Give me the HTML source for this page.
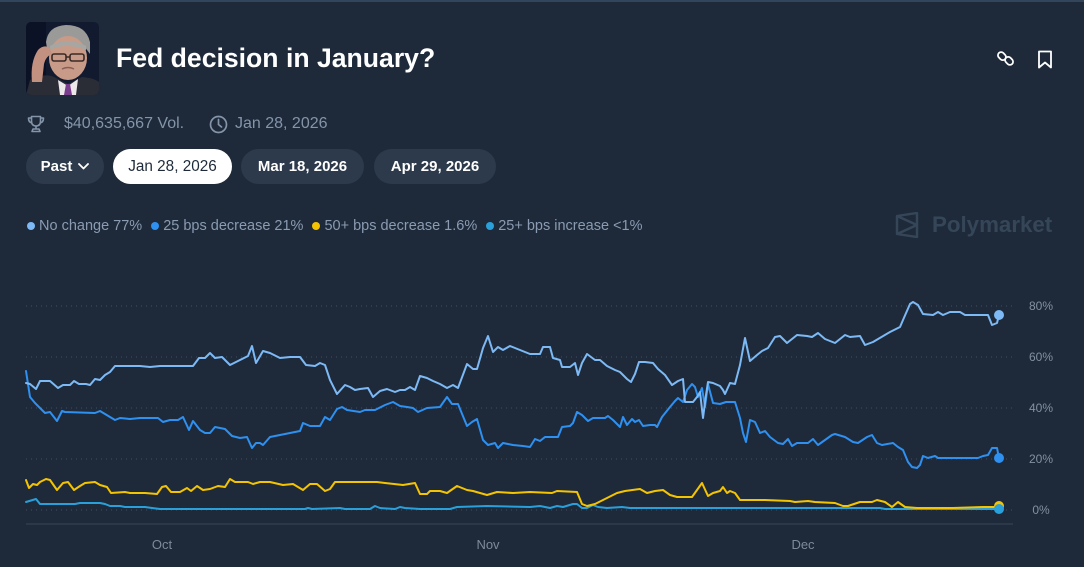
<!DOCTYPE html>
<html><head><meta charset="utf-8">
<style>
*{margin:0;padding:0;box-sizing:border-box}
html,body{width:1084px;height:567px;overflow:hidden;background:#1e2a3a;font-family:"Liberation Sans",Arial,sans-serif}
.abs{position:absolute}
#top{position:absolute;left:0;top:0;width:1084px;height:2px;background:#33455a}
.title{left:116px;top:40px;font-size:26.6px;font-weight:bold;color:#fff;line-height:36px;white-space:nowrap}
.meta{top:114px;font-size:16px;color:#8494a9;line-height:20px;white-space:nowrap}
.pill{top:149px;height:35px;border-radius:18px;background:#2c3a4c;color:#fff;font-size:15px;font-weight:bold;display:flex;align-items:center;justify-content:center;white-space:nowrap}
.pill.sel{background:#fff;color:#1e2a3a;font-weight:normal;font-size:15.3px}
.legend{left:27px;top:217px;height:18px;display:flex;align-items:center;font-size:14.5px;color:#8a9bb2;white-space:nowrap}
.legend .it{display:flex;align-items:center;margin-right:9px}
.legend .d{width:8px;height:8px;border-radius:50%;margin-right:4px}
.wm{left:932px;top:211px;font-size:22.3px;font-weight:bold;color:#364659;line-height:28px}
</style></head><body>
<div id="top"></div>

<svg class="abs" style="left:26px;top:22px" width="73" height="73" viewBox="0 0 73 73">
<defs><clipPath id="cp"><rect width="73" height="73" rx="5"/></clipPath></defs>
<g clip-path="url(#cp)">
<rect width="73" height="73" fill="#121a30"/>
<rect x="0" y="0" width="20" height="73" fill="#0c1226"/>
<path d="M20 20 Q22 4 40 3 Q60 3 64 20 L64 32 L58 24 Q42 18 26 26 L22 32 Z" fill="#9a9a98"/>
<ellipse cx="42" cy="36" rx="19" ry="22" fill="#c89b88"/>
<path d="M24 28 Q40 20 60 28 L60 24 Q42 14 24 24 Z" fill="#a8a6a2"/>
<rect x="26" y="32" width="14" height="7" rx="2" fill="none" stroke="#3a2a25" stroke-width="1.6"/>
<rect x="44" y="32" width="14" height="7" rx="2" fill="none" stroke="#3a2a25" stroke-width="1.6"/>
<path d="M40 35 L44 35" stroke="#3a2a25" stroke-width="1.4"/>
<path d="M36 47 Q42 44 48 47" stroke="#8a5e55" stroke-width="1.5" fill="none"/>
<path d="M0 73 L4 58 Q20 50 30 56 L42 62 L56 55 Q68 56 73 60 L73 73 Z" fill="#2a2c36"/>
<path d="M32 58 L42 64 L52 57 L50 73 L34 73 Z" fill="#ece8ea"/>
<path d="M40 62 L44 62 L46 73 L38 73 Z" fill="#7a3c8c"/>
<path d="M6 60 Q4 40 12 28 Q18 22 24 26 L26 32 Q20 34 18 42 L16 60 Z" fill="#c2917f"/>
</g>
</svg>

<div class="abs title">Fed decision in January?</div>

<svg class="abs" style="left:996px;top:49px" width="19" height="19" viewBox="0 0 24 24" fill="none" stroke="#fff" stroke-width="2.2" stroke-linecap="round">
<rect x="2" y="5" width="11" height="8" rx="4" transform="rotate(45 7.5 9)"/>
<rect x="11" y="11" width="11" height="8" rx="4" transform="rotate(45 16.5 15)"/>
</svg>
<svg class="abs" style="left:1037px;top:50px" width="16" height="19" viewBox="0 0 16 19" fill="none" stroke="#fff" stroke-width="1.8" stroke-linejoin="round">
<path d="M2 1.5 H14 V17.5 L8 12.5 L2 17.5 Z"/>
</svg>

<svg class="abs" style="left:27px;top:115px" width="18" height="18" viewBox="0 0 18 18" fill="none" stroke="#8494a9" stroke-width="1.6" stroke-linejoin="round">
<path d="M4.5 1.5 H13.5 V6 Q13.5 11 9 11 Q4.5 11 4.5 6 Z"/>
<path d="M4.5 3 H1.5 Q1.5 7.5 5 8"/><path d="M13.5 3 H16.5 Q16.5 7.5 13 8"/>
<path d="M9 11 V14"/><path d="M5 16.5 H13 L12 14 H6 Z"/>
</svg>
<div class="abs meta" style="left:64px">$40,635,667 Vol.</div>
<svg class="abs" style="left:209px;top:115px" width="19" height="19" viewBox="0 0 19 19" fill="none" stroke="#8494a9" stroke-width="1.7" stroke-linecap="round">
<circle cx="9.5" cy="9.5" r="8"/><path d="M9.5 4.5 V9.5 L12.5 12"/>
</svg>
<div class="abs meta" style="left:235px">Jan 28, 2026</div>

<div class="abs pill" style="left:26px;width:78px">Past<svg style="margin-left:6px" width="11" height="7" viewBox="0 0 11 7" fill="none" stroke="#fff" stroke-width="1.8" stroke-linecap="round" stroke-linejoin="round"><path d="M1 1 L5.5 5.5 L10 1"/></svg></div>
<div class="abs pill sel" style="left:113px;width:119px">Jan 28, 2026</div>
<div class="abs pill" style="left:241px;width:123px">Mar 18, 2026</div>
<div class="abs pill" style="left:374px;width:122px">Apr 29, 2026</div>

<div class="abs legend">
<div class="it"><span class="d" style="background:#7cb9f5"></span>No change 77%</div>
<div class="it"><span class="d" style="background:#2e90f0"></span>25 bps decrease 21%</div>
<div class="it"><span class="d" style="background:#f5c400"></span>50+ bps decrease 1.6%</div>
<div class="it"><span class="d" style="background:#2aa0da"></span>25+ bps increase &lt;1%</div>
</div>

<svg class="abs" style="left:895px;top:212px" width="24" height="26" viewBox="0 0 24 26" fill="none" stroke="#364659" stroke-width="2.4" stroke-linejoin="round">
<path d="M2 4 L22 1 V25 L2 22 Z"/><path d="M2 4 L22 13 L2 22"/>
</svg>
<div class="abs wm">Polymarket</div>

<svg class="abs" style="left:0;top:0" width="1084" height="567" viewBox="0 0 1084 567">
<g stroke="#3a4859" stroke-width="1.2" stroke-dasharray="1 4">
<line x1="26" y1="306" x2="1013" y2="306"/>
<line x1="26" y1="357" x2="1013" y2="357"/>
<line x1="26" y1="408" x2="1013" y2="408"/>
<line x1="26" y1="459" x2="1013" y2="459"/>
<line x1="26" y1="510" x2="1013" y2="510"/>
</g>
<line x1="26" y1="524" x2="1013" y2="524" stroke="#36455a" stroke-width="1"/>
<g font-family="Liberation Sans, Arial, sans-serif" font-size="12" fill="#8290a0" text-anchor="middle">
<text x="1041" y="310">80%</text>
<text x="1041" y="361">60%</text>
<text x="1041" y="412">40%</text>
<text x="1041" y="463">20%</text>
<text x="1041" y="514">0%</text>
</g>
<g font-family="Liberation Sans, Arial, sans-serif" font-size="13" fill="#7d8a9a" text-anchor="middle">
<text x="162" y="549">Oct</text>
<text x="488" y="549">Nov</text>
<text x="803" y="549">Dec</text>
</g>
<g fill="none" stroke-width="2" stroke-linejoin="round" stroke-linecap="round">
<polyline stroke="#2aa0da" points="26,502 36,499 40,504 75,504 80,503 100,503 105,504 110,506 120,506 125,507 145,507 152,508 160,509 305,509 308,508 312,509 340,508 345,509 370,509 375,506 380,508 395,509 400,507 405,508 420,509 450,509 457,507 487,506 530,507 540,506 550,508 557,506 563,507 573,504 577,504 582,508 587,508 593,505 598,507 607,508 622,507 630,508 880,508 885,509 910,509 999,509"/>
<polyline stroke="#f5c400" points="26,480 29,488 33,484 37,485 40,482 46,479 50,480 57,490 63,483 68,482 74,490 80,486 85,483 95,482 100,485 107,487 111,493 125,492 130,493 145,493 157,494 162,487 166,486 171,492 180,492 187,488 191,491 197,486 203,490 210,489 218,486 225,487 230,479 235,482 248,482 253,484 260,482 270,482 283,485 293,484 303,490 310,484 317,484 325,491 330,489 335,482 360,482 377,482 385,483 403,485 415,483 420,494 427,494 430,491 440,491 447,493 457,486 467,490 473,491 487,495 497,492 513,493 530,492 552,493 557,491 577,492 582,504 587,506 595,504 607,498 617,493 625,491 640,489 647,493 655,491 663,490 670,495 677,497 692,497 702,483 708,496 713,493 720,491 723,487 727,493 730,491 735,493 740,500 750,500 765,500 790,501 795,502 808,501 815,502 835,503 843,506 848,506 860,502 872,502 877,500 885,502 892,507 898,502 905,507 917,508 927,508 953,508 983,507 999,507"/>
<polyline stroke="#2e90f0" points="26,371 30,397 35,403 40,408 45,413 50,412 57,421 62,411 65,412 95,413 100,411 110,417 115,420 120,418 130,419 140,418 158,418 163,422 170,420 178,420 183,417 189,430 193,421 200,430 205,433 210,433 215,427 225,429 232,436 240,438 247,437 252,448 256,443 260,443 263,445 270,437 280,435 290,433 300,431 303,423 310,426 320,426 325,417 330,420 337,409 342,407 347,410 360,412 365,410 375,410 385,405 393,402 400,406 407,407 413,408 418,412 427,408 440,407 447,397 452,404 458,404 467,426 472,422 477,419 483,440 488,445 495,443 498,448 503,443 513,445 523,446 530,447 535,439 540,441 545,437 555,437 558,437 562,427 570,426 573,423 577,412 582,415 588,421 593,418 605,418 608,416 613,420 620,427 623,417 627,425 632,419 635,422 639,420 643,426 650,425 655,425 657,427 662,417 670,407 675,401 678,398 683,402 687,390 692,384 695,387 698,397 702,388 705,407 708,384 713,403 720,404 726,402 735,402 740,418 743,433 746,442 750,420 755,422 760,433 765,431 770,437 778,443 783,444 788,439 792,446 797,443 808,443 813,439 818,445 825,440 832,435 835,434 845,437 853,442 858,443 867,437 872,435 877,443 882,445 893,443 898,447 903,450 908,462 912,467 917,468 920,465 923,456 928,458 935,456 938,458 953,458 978,458 983,456 988,455 992,448 997,448 999,458"/>
<polyline stroke="#7cb9f5" points="26,383 30,384 36,389 40,381 50,381 58,388 63,385 70,385 74,381 79,384 86,384 90,385 95,379 100,380 105,375 110,372 115,366 140,366 150,367 160,366 193,366 199,358 205,358 210,353 215,358 222,357 230,365 240,360 248,356 252,346 256,363 263,351 270,353 280,358 290,357 300,357 306,365 315,366 320,363 325,365 330,380 337,394 345,385 350,387 355,390 360,389 368,388 373,397 380,391 387,389 395,392 400,390 405,390 410,387 415,390 420,376 427,378 433,381 440,384 447,388 453,385 458,388 467,364 473,369 477,369 483,348 488,336 493,352 498,347 503,350 510,346 520,350 530,354 540,354 543,347 550,347 553,358 560,360 562,367 570,367 575,363 578,375 582,363 587,354 595,360 600,360 607,366 615,370 620,372 627,379 631,382 635,374 639,362 645,362 653,363 658,369 665,375 672,385 678,381 683,379 685,402 693,402 697,397 700,392 703,418 706,395 708,382 713,383 720,386 723,390 725,394 730,383 735,384 740,365 745,338 750,361 757,355 762,351 768,348 775,337 780,336 787,343 797,335 807,336 812,337 818,333 825,339 835,343 845,335 850,337 860,336 865,345 873,342 890,332 900,327 903,320 910,304 913,302 918,305 923,314 933,315 938,312 943,315 950,312 960,312 965,315 980,315 988,315 992,325 997,323 999,315"/>
</g>
<circle cx="999" cy="315" r="5" fill="#7cb9f5"/>
<circle cx="999" cy="458" r="5" fill="#2e90f0"/>
<circle cx="999" cy="506" r="5" fill="#f5c400"/>
<circle cx="999" cy="509" r="5" fill="#2aa0da"/>
</svg>
</body></html>
